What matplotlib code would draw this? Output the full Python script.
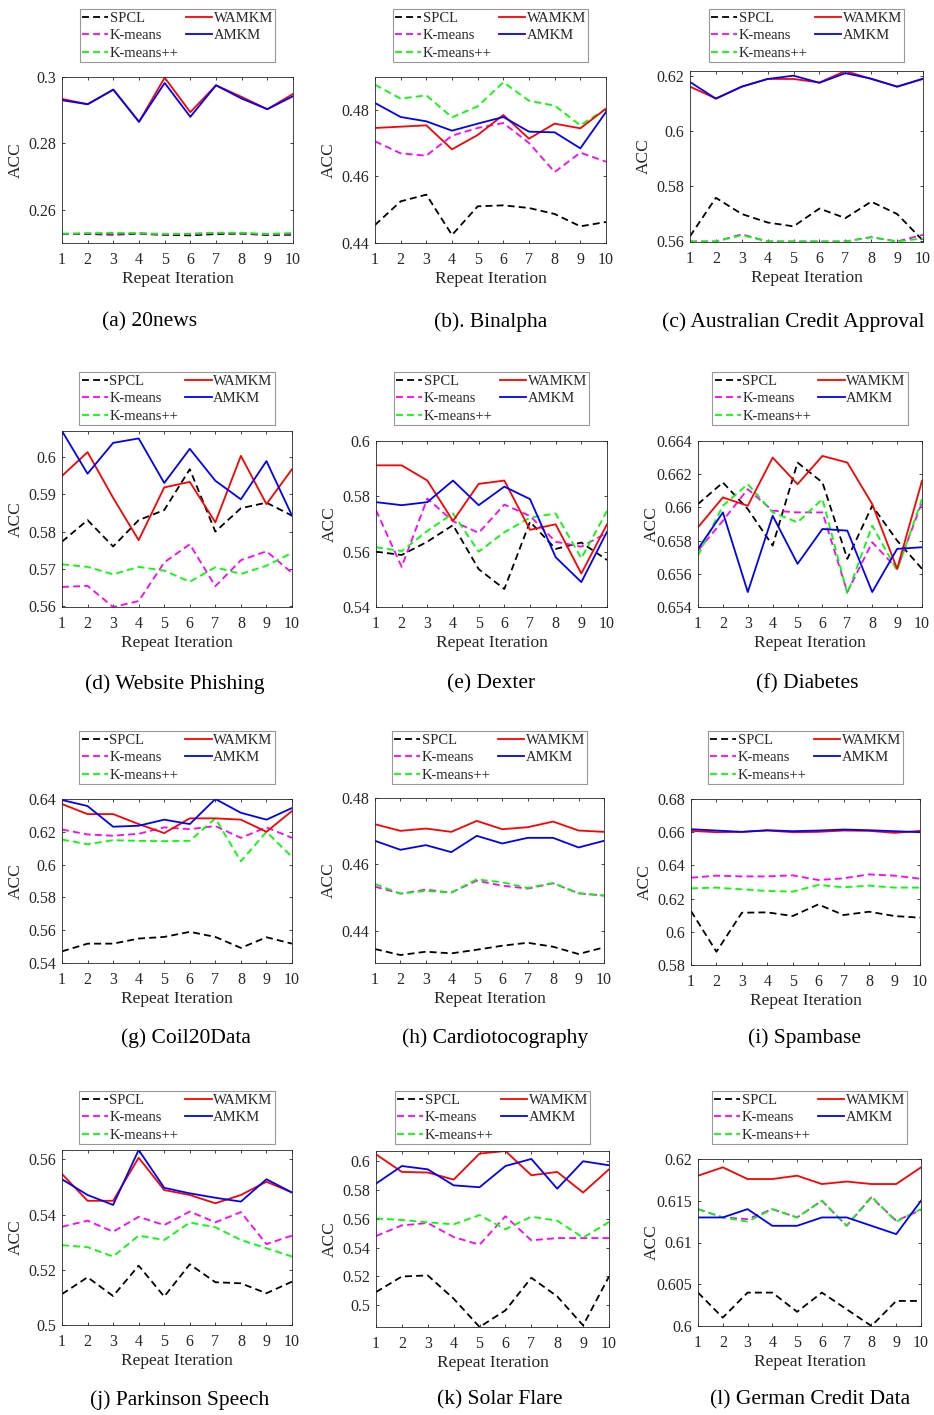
import matplotlib
matplotlib.use("Agg")
import matplotlib.pyplot as plt
from matplotlib.ticker import FuncFormatter

plt.rcParams['font.family'] = ['Liberation Serif', 'DejaVu Serif']
plt.rcParams['lines.scale_dashes'] = False

W, H = 934, 1415

iters = list(range(1, 11))
methods = ['SPCL', 'K-means', 'K-means++', 'WAMKM', 'AMKM']

# accuracy per repeat, one list per dataset/method
news_spcl = [0.2527, 0.2527, 0.2525, 0.2528, 0.2524, 0.2523, 0.2527, 0.2528, 0.2524, 0.2525]
news_km = [0.2527, 0.2529, 0.2527, 0.2530, 0.2525, 0.2528, 0.2530, 0.2529, 0.2526, 0.2528]
news_kmpp = [0.2528, 0.2529, 0.2531, 0.2529, 0.2527, 0.2527, 0.2531, 0.2531, 0.2527, 0.2530]
news_wamkm = [0.2934, 0.2918, 0.2962, 0.2865, 0.2998, 0.2894, 0.2975, 0.2940, 0.2903, 0.2949]
news_amkm = [0.2930, 0.2918, 0.2962, 0.2865, 0.2982, 0.2880, 0.2975, 0.2935, 0.2903, 0.2942]

bin_spcl = [0.4454, 0.4525, 0.4545, 0.4424, 0.4510, 0.4513, 0.4505, 0.4487, 0.4450, 0.4463]
bin_km = [0.4705, 0.4669, 0.4662, 0.4722, 0.4745, 0.4760, 0.4700, 0.4613, 0.4671, 0.4644]
bin_kmpp = [0.4875, 0.4833, 0.4843, 0.4777, 0.4810, 0.4882, 0.4827, 0.4812, 0.4753, 0.4803]
bin_wamkm = [0.4745, 0.4749, 0.4753, 0.4681, 0.4724, 0.4784, 0.4713, 0.4758, 0.4744, 0.4803]
bin_amkm = [0.4820, 0.4778, 0.4765, 0.4737, 0.4758, 0.4778, 0.4734, 0.4732, 0.4684, 0.4793]

aus_spcl = [0.5616, 0.5756, 0.5697, 0.5666, 0.5652, 0.5717, 0.5682, 0.5742, 0.5697, 0.5600]
aus_km = [0.5597, 0.5597, 0.5623, 0.5597, 0.5597, 0.5597, 0.5597, 0.5613, 0.5597, 0.5621]
aus_kmpp = [0.5597, 0.5597, 0.5620, 0.5597, 0.5597, 0.5597, 0.5597, 0.5612, 0.5597, 0.5608]
aus_wamkm = [0.6161, 0.6118, 0.6161, 0.6189, 0.6189, 0.6176, 0.6218, 0.6189, 0.6161, 0.6189]
aus_amkm = [0.6178, 0.6117, 0.6161, 0.6189, 0.6201, 0.6175, 0.6210, 0.6190, 0.6161, 0.6190]

web_spcl = [0.5773, 0.5831, 0.5760, 0.5831, 0.5858, 0.5968, 0.5800, 0.5863, 0.5878, 0.5843]
web_km = [0.5651, 0.5654, 0.5597, 0.5613, 0.5717, 0.5766, 0.5653, 0.5723, 0.5747, 0.5689]
web_kmpp = [0.5712, 0.5705, 0.5685, 0.5705, 0.5695, 0.5665, 0.5704, 0.5686, 0.5708, 0.5743]
web_wamkm = [0.5950, 0.6014, 0.5891, 0.5777, 0.5919, 0.5934, 0.5825, 0.6004, 0.5874, 0.5968]
web_amkm = [0.6071, 0.5956, 0.6039, 0.6051, 0.5931, 0.6023, 0.5937, 0.5887, 0.5990, 0.5843]

dex_spcl = [0.5600, 0.5588, 0.5636, 0.5696, 0.5537, 0.5465, 0.5708, 0.5610, 0.5633, 0.5570]
dex_km = [0.5750, 0.5545, 0.5792, 0.5710, 0.5668, 0.5770, 0.5729, 0.5636, 0.5618, 0.5668]
dex_kmpp = [0.5616, 0.5602, 0.5675, 0.5738, 0.5600, 0.5670, 0.5723, 0.5738, 0.5576, 0.5747]
dex_wamkm = [0.5912, 0.5912, 0.5857, 0.5711, 0.5845, 0.5857, 0.5679, 0.5699, 0.5521, 0.5699]
dex_amkm = [0.5779, 0.5768, 0.5779, 0.5857, 0.5768, 0.5835, 0.5790, 0.5580, 0.5490, 0.5672]

dia_spcl = [0.6602, 0.6615, 0.6599, 0.6577, 0.6627, 0.6615, 0.6569, 0.6601, 0.6580, 0.6563]
dia_km = [0.6574, 0.6592, 0.6611, 0.6598, 0.6597, 0.6597, 0.6549, 0.6579, 0.6563, 0.6603]
dia_kmpp = [0.6571, 0.6601, 0.6614, 0.6597, 0.6591, 0.6605, 0.6548, 0.6589, 0.6562, 0.6605]
dia_wamkm = [0.6588, 0.6606, 0.6601, 0.6630, 0.6614, 0.6631, 0.6627, 0.6602, 0.6563, 0.6616]
dia_amkm = [0.6575, 0.6597, 0.6549, 0.6595, 0.6566, 0.6587, 0.6586, 0.6549, 0.6575, 0.6576]

coil_spcl = [0.5471, 0.5518, 0.5518, 0.5549, 0.5559, 0.5590, 0.5559, 0.5492, 0.5557, 0.5518]
coil_km = [0.6214, 0.6184, 0.6176, 0.6188, 0.6227, 0.6216, 0.6235, 0.6163, 0.6227, 0.6163]
coil_kmpp = [0.6153, 0.6124, 0.6149, 0.6145, 0.6143, 0.6145, 0.6282, 0.6020, 0.6200, 0.6047]
coil_wamkm = [0.6369, 0.6308, 0.6308, 0.6247, 0.6192, 0.6282, 0.6282, 0.6274, 0.6200, 0.6327]
coil_amkm = [0.6394, 0.6357, 0.6231, 0.6237, 0.6274, 0.6247, 0.6400, 0.6316, 0.6274, 0.6345]

car_spcl = [0.4345, 0.4327, 0.4337, 0.4332, 0.4343, 0.4355, 0.4364, 0.4352, 0.4330, 0.4350]
car_km = [0.4533, 0.4512, 0.4524, 0.4515, 0.4551, 0.4536, 0.4527, 0.4543, 0.4513, 0.4506]
car_kmpp = [0.4541, 0.4512, 0.4520, 0.4515, 0.4555, 0.4546, 0.4529, 0.4544, 0.4513, 0.4506]
car_wamkm = [0.4721, 0.4701, 0.4708, 0.4698, 0.4731, 0.4706, 0.4712, 0.4729, 0.4702, 0.4698]
car_amkm = [0.4671, 0.4644, 0.4658, 0.4637, 0.4686, 0.4663, 0.4680, 0.4680, 0.4651, 0.4671]

spam_spcl = [0.6125, 0.5880, 0.6115, 0.6117, 0.6095, 0.6165, 0.6101, 0.6121, 0.6095, 0.6085]
spam_km = [0.6326, 0.6338, 0.6334, 0.6334, 0.6340, 0.6312, 0.6322, 0.6346, 0.6338, 0.6320]
spam_kmpp = [0.6262, 0.6266, 0.6256, 0.6246, 0.6242, 0.6282, 0.6268, 0.6278, 0.6266, 0.6266]
spam_wamkm = [0.6608, 0.6600, 0.6602, 0.6610, 0.6600, 0.6602, 0.6610, 0.6608, 0.6596, 0.6608]
spam_amkm = [0.6618, 0.6610, 0.6602, 0.6612, 0.6606, 0.6610, 0.6616, 0.6612, 0.6606, 0.6600]

par_spcl = [0.5112, 0.5173, 0.5105, 0.5215, 0.5103, 0.5220, 0.5155, 0.5151, 0.5115, 0.5157]
par_km = [0.5356, 0.5378, 0.5338, 0.5392, 0.5362, 0.5411, 0.5372, 0.5409, 0.5293, 0.5324]
par_kmpp = [0.5289, 0.5282, 0.5248, 0.5324, 0.5308, 0.5371, 0.5354, 0.5308, 0.5278, 0.5248]
par_wamkm = [0.5547, 0.5450, 0.5450, 0.5606, 0.5489, 0.5471, 0.5441, 0.5471, 0.5519, 0.5480]
par_amkm = [0.5528, 0.5471, 0.5435, 0.5634, 0.5497, 0.5477, 0.5461, 0.5447, 0.5528, 0.5480]

sol_spcl = [0.5092, 0.5200, 0.5207, 0.5046, 0.4850, 0.4965, 0.5191, 0.5062, 0.4861, 0.5200]
sol_km = [0.5480, 0.5554, 0.5570, 0.5473, 0.5420, 0.5617, 0.5450, 0.5466, 0.5466, 0.5466]
sol_kmpp = [0.5602, 0.5591, 0.5575, 0.5561, 0.5625, 0.5527, 0.5614, 0.5586, 0.5469, 0.5577]
sol_wamkm = [0.6046, 0.5924, 0.5920, 0.5871, 0.6051, 0.6069, 0.5901, 0.5924, 0.5781, 0.5942]
sol_amkm = [0.5843, 0.5965, 0.5942, 0.5831, 0.5818, 0.5965, 0.6014, 0.5808, 0.5998, 0.5970]

ger_spcl = [0.6040, 0.6010, 0.6040, 0.6040, 0.6017, 0.6040, 0.6020, 0.6000, 0.6030, 0.6030]
ger_km = [0.6140, 0.6130, 0.6128, 0.6140, 0.6130, 0.6150, 0.6120, 0.6154, 0.6126, 0.6139]
ger_kmpp = [0.6140, 0.6130, 0.6125, 0.6140, 0.6130, 0.6150, 0.6120, 0.6155, 0.6125, 0.6140]
ger_wamkm = [0.6180, 0.6190, 0.6176, 0.6176, 0.6180, 0.6170, 0.6173, 0.6170, 0.6170, 0.6190]
ger_amkm = [0.6130, 0.6130, 0.6140, 0.6120, 0.6120, 0.6130, 0.6130, 0.6120, 0.6110, 0.6150]

captions = ['(a) 20news', '(b). Binalpha', '(c) Australian Credit Approval',
            '(d) Website Phishing', '(e) Dexter', '(f) Diabetes',
            '(g) Coil20Data', '(h) Cardiotocography', '(i) Spambase',
            '(j) Parkinson Speech', '(k) Solar Flare', '(l) German Credit Data']

series = [
    [news_spcl, news_km, news_kmpp, news_wamkm, news_amkm],
    [bin_spcl, bin_km, bin_kmpp, bin_wamkm, bin_amkm],
    [aus_spcl, aus_km, aus_kmpp, aus_wamkm, aus_amkm],
    [web_spcl, web_km, web_kmpp, web_wamkm, web_amkm],
    [dex_spcl, dex_km, dex_kmpp, dex_wamkm, dex_amkm],
    [dia_spcl, dia_km, dia_kmpp, dia_wamkm, dia_amkm],
    [coil_spcl, coil_km, coil_kmpp, coil_wamkm, coil_amkm],
    [car_spcl, car_km, car_kmpp, car_wamkm, car_amkm],
    [spam_spcl, spam_km, spam_kmpp, spam_wamkm, spam_amkm],
    [par_spcl, par_km, par_kmpp, par_wamkm, par_amkm],
    [sol_spcl, sol_km, sol_kmpp, sol_wamkm, sol_amkm],
    [ger_spcl, ger_km, ger_kmpp, ger_wamkm, ger_amkm],
]

ylims = [(0.25, 0.30), (0.44, 0.4898), (0.5595, 0.6218),
         (0.5597, 0.6071), (0.54, 0.60), (0.654, 0.664),
         (0.54, 0.64), (0.4303, 0.48), (0.58, 0.68),
         (0.50, 0.5634), (0.485, 0.6069), (0.60, 0.62)]

yticks = [[0.26, 0.28, 0.30], [0.44, 0.46, 0.48], [0.56, 0.58, 0.60, 0.62],
          [0.56, 0.57, 0.58, 0.59, 0.60], [0.54, 0.56, 0.58, 0.60],
          [0.654, 0.656, 0.658, 0.660, 0.662, 0.664],
          [0.54, 0.56, 0.58, 0.60, 0.62, 0.64], [0.44, 0.46, 0.48],
          [0.58, 0.60, 0.62, 0.64, 0.66, 0.68], [0.50, 0.52, 0.54, 0.56],
          [0.50, 0.52, 0.54, 0.56, 0.58, 0.60], [0.600, 0.605, 0.610, 0.615, 0.620]]

# axes boxes in pixels: left, top, right, bottom
boxes = [(62, 77, 293, 243), (375, 77, 606, 243), (690, 71, 923, 242),
         (62, 431, 292, 607), (376, 441, 607, 607), (698, 441, 922, 607),
         (62, 799, 292, 963), (375, 798, 604, 963), (691, 799, 920, 965),
         (62, 1150, 292, 1325), (376, 1151, 609, 1327), (698, 1159, 921, 1326)]
legend_bottom = [62, 425, 784, 1144]
caption_y = [322, 684, 1038, 1400]
caption_x = [150, 491, 793, 175, 491, 807, 186, 495, 805, 180, 500, 810]

styles = [dict(color='k', ls='--'), dict(color='#ff00ff', ls='--'),
          dict(color='#00ff00', ls='--'), dict(color='r', ls='-'),
          dict(color='b', ls='-')]

fig = plt.figure(figsize=(W / 100, H / 100), dpi=100)
tick_color = '#262626'

for i, (l, t, r, b) in enumerate(boxes):
    row = i // 3
    ax = fig.add_axes([l / W, 1 - b / H, (r - l) / W, (b - t) / H])
    for vals, st, name in zip(series[i], styles, methods):
        line, = ax.plot(iters, vals, color=st['color'], ls=st['ls'], lw=1.3, label=name)
        if st['ls'] == '--':
            line.set_dashes((5, 3))
    ax.set_xlim(1, 10)
    ax.set_ylim(*ylims[i])
    ax.set_xticks(iters)
    ax.set_yticks(yticks[i])
    ax.yaxis.set_major_formatter(FuncFormatter(lambda v, p: '{:g}'.format(round(v, 4))))
    ax.tick_params(direction='in', length=2.5, width=0.6, top=True, right=True,
                   labelsize=11.5, colors=tick_color, pad=4)
    ax.tick_params(axis='x', pad=6.5)
    for sp in ax.spines.values():
        sp.set_color(tick_color)
        sp.set_linewidth(0.6)
    ax.set_xlabel('Repeat Iteration', fontsize=12.5, color=tick_color)
    ax.set_ylabel('ACC', fontsize=12.5, color=tick_color)
    ax.xaxis.set_label_coords(0.5, -28 / (b - t))
    ax.yaxis.set_label_coords(-38 / (r - l), 0.5)

    cx = (l + r) / 2
    leg = ax.legend(ncol=2, loc='lower center',
                    bbox_to_anchor=(cx / W, 1 - legend_bottom[row] / H),
                    bbox_transform=fig.transFigure, fontsize=10.5,
                    frameon=True, fancybox=False, borderpad=0.15,
                    labelspacing=0.3, handlelength=1.8, handletextpad=0.1,
                    columnspacing=0.5, borderaxespad=0)
    leg.get_frame().set_edgecolor('#7f7f7f')
    leg.get_frame().set_linewidth(0.8)
    for txt in leg.get_texts():
        txt.set_color(tick_color)

    fig.text(caption_x[i] / W, 1 - caption_y[row] / H, captions[i],
             ha='center', va='center', fontsize=15.5)

fig.savefig('out.png', dpi=100)
